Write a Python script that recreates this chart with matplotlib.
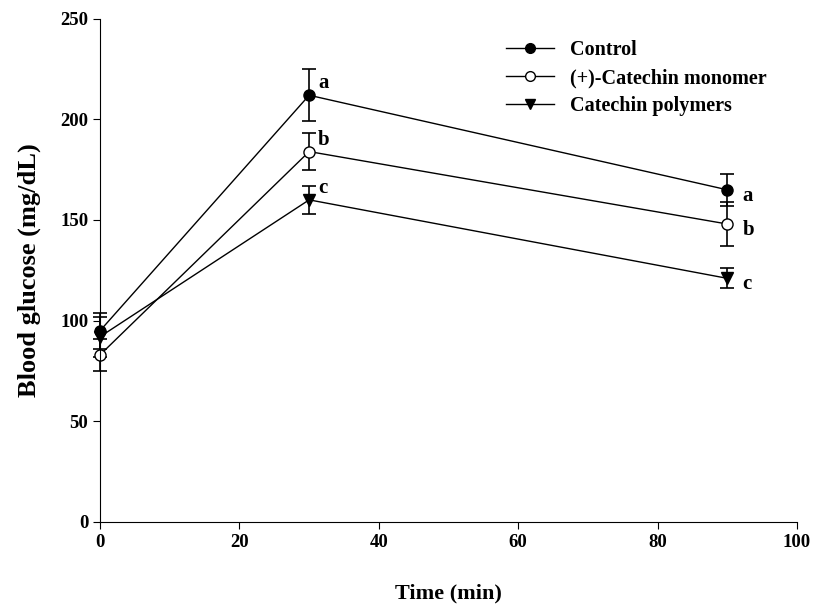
import matplotlib.pyplot as plt
from matplotlib.lines import Line2D

time = [0, 30, 90]
control = [95, 212, 165]
control_err = [9, 13, 8]
monomer = [83, 184, 148]
monomer_err = [8, 9, 11]
polymers = [92, 160, 121]
polymers_err = [10, 7, 5]
letters = ["a", "b", "c"]

plt.rcParams['font.family'] = ['Liberation Serif', 'DejaVu Serif']
plt.rcParams['font.weight'] = 'bold'

fig = plt.figure(figsize=(8.14, 6.06), dpi=100)
ax = fig.add_axes([0.123, 0.139, 0.856, 0.830])

series = [
    ("Control", control, control_err, dict(marker='o', mfc='black')),
    ("(+)-Catechin monomer", monomer, monomer_err, dict(marker='o', mfc='white')),
    ("Catechin polymers", polymers, polymers_err, dict(marker='v', mfc='black')),
]
handles = []
for name, vals, errs, st in series:
    eb = ax.errorbar(time, vals, yerr=errs, color='black', lw=1, mec='black',
                     ms=8, capsize=5, capthick=1.2, elinewidth=1.2, **st)
    for art in eb.lines[0:1] + tuple(eb.lines[1]) + tuple(eb.lines[2]):
        art.set_clip_on(False)
    handles.append(Line2D([], [], color='black', lw=1, mec='black', ms=7, label=name, **st))

# significance letters
for i, (name, vals, errs, st) in enumerate(series):
    ax.text(time[1] + 1.3, vals[1] + 6, letters[i], fontsize=15, fontweight='bold', va='center')
    ax.text(time[2] + 2.2, vals[2] - 3, letters[i], fontsize=15, fontweight='bold', va='center')

ax.set_xlim(0, 100)
ax.set_ylim(0, 250)
ax.set_xticks(range(0, 101, 20))
ax.set_yticks(range(0, 251, 50))
ax.spines['top'].set_visible(False)
ax.spines['right'].set_visible(False)
ax.tick_params(labelsize=13.5, direction='out', length=5)
ax.set_xlabel("Time (min)", fontsize=16, fontweight='bold', labelpad=24)
ax.set_ylabel("Blood glucose (mg/dL)", fontsize=19, fontweight='bold', labelpad=14)

ax.legend(handles=handles, loc='upper right', bbox_to_anchor=(0.983, 0.994), frameon=False,
          fontsize=14.5, handlelength=2.4, labelspacing=0.4, handletextpad=0.8)

fig.savefig("out.png", dpi=100)
